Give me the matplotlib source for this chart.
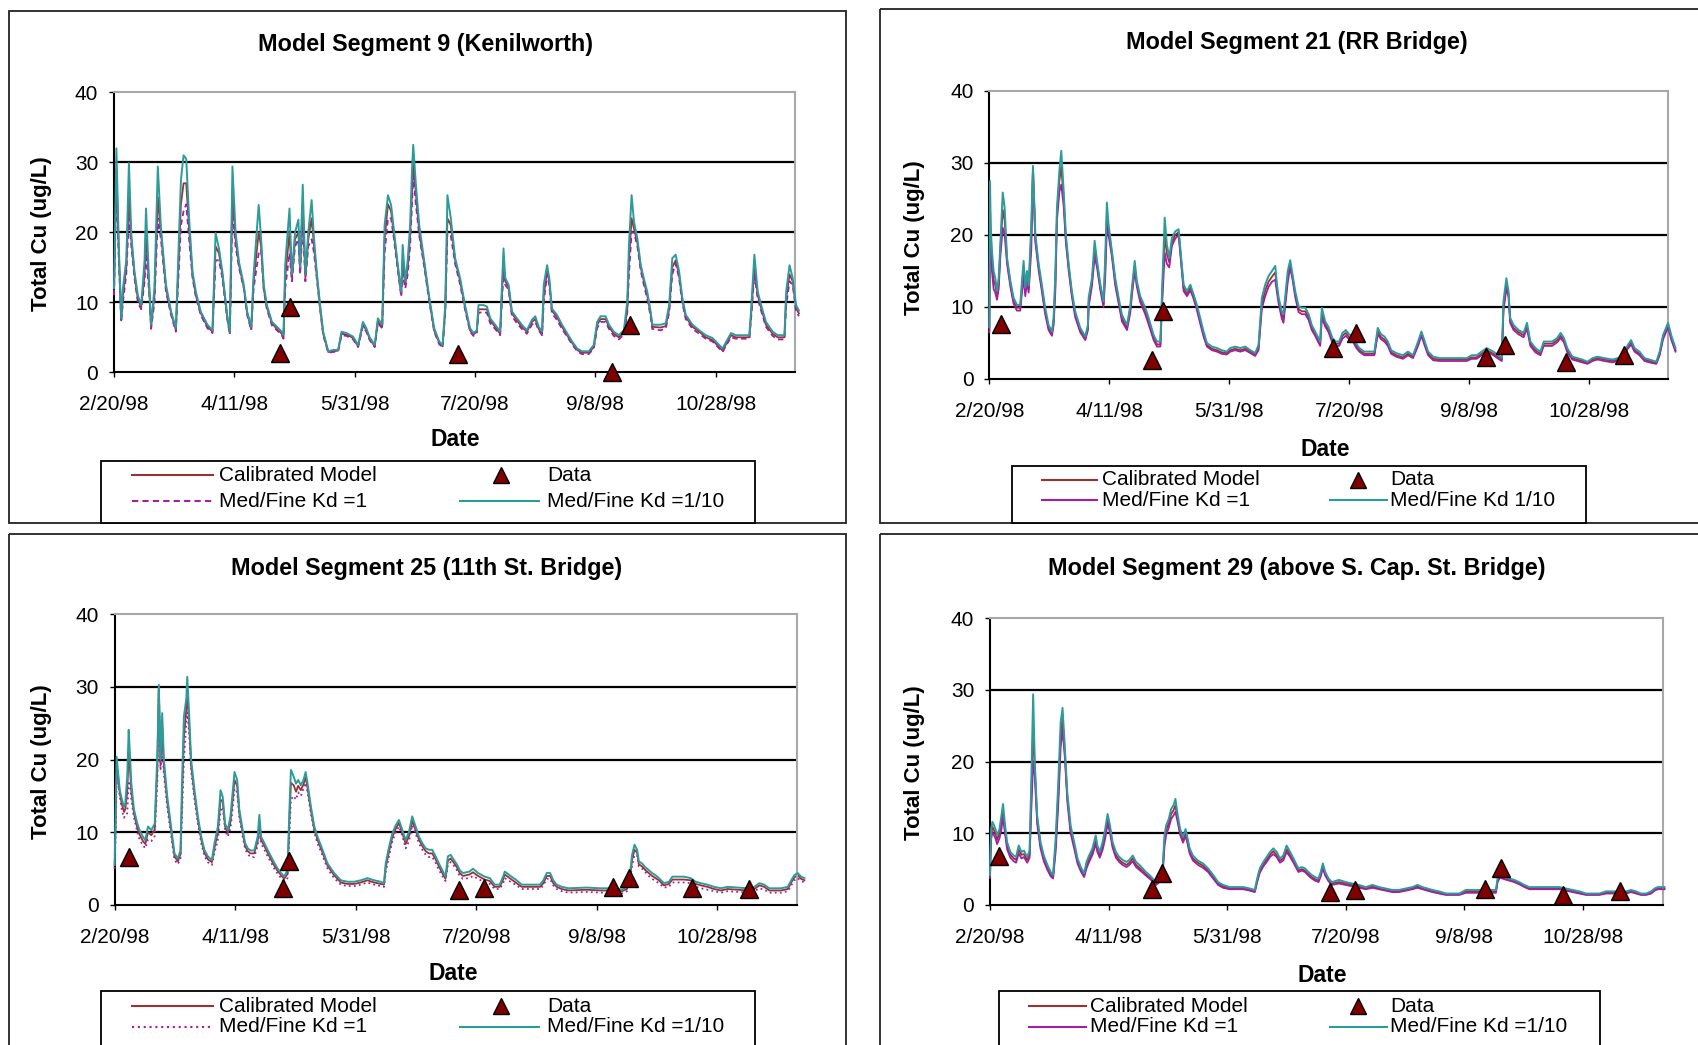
import matplotlib
matplotlib.use("Agg")
import matplotlib.pyplot as plt
from matplotlib.patches import Rectangle
from matplotlib.lines import Line2D

plt.rcParams['font.family'] = ['Liberation Sans', 'DejaVu Sans']

W, H, DPI = 1698, 1045, 100

# ---------------- shared axis data ----------------
x_tick_days = [0, 50, 100, 150, 200, 250]          # days after 2/20/98
x_tick_labels = ['2/20/98', '4/11/98', '5/31/98', '7/20/98', '9/8/98', '10/28/98']
y_ticks = [0, 10, 20, 30, 40]
grid_levels = [10, 20, 30]

# ---------------- Segment 9 (Kenilworth) ----------------
seg9_days = [0, 1, 2, 3, 3.7, 5.1, 6.2, 7.2, 8.5, 9.9,
             11.3, 12.7, 13.3, 14.7, 15.4, 16.8, 18.2, 19.5, 21.6, 23.7,
             25.7, 26.4, 27.8, 28.9, 30, 31.2, 32.6, 34, 36, 38.8,
             40.9, 42.2, 43.6, 45, 47, 48.1, 49.2, 50.5, 51.9, 53.9,
             55.3, 57, 58, 60.1, 61.1, 62.2, 63.5, 65.6, 67.7, 69.7,
             70.4, 71.1, 72.9, 73.9, 75.2, 76.6, 77.3, 78.4, 79.5, 80.7,
             82.1, 83.1, 84.2, 85.6, 86.9, 89, 91.1, 93.1, 94.5, 96.6,
             99.3, 101.4, 103.4, 104.8, 106.2, 108.3, 109.6, 111.4, 112.4, 113.8,
             115.1, 116.5, 117.9, 119.3, 119.9, 121, 122, 123, 123.8, 124.3,
             125.4, 126.8, 128.9, 131, 133, 135.1, 136.5, 137.6, 138.5, 139.9,
             141.7, 143.8, 145.8, 147.9, 149.3, 150.7, 151.4, 153.5, 154.9, 156.3,
             158.3, 160.4, 161.1, 161.8, 162.5, 163.9, 165.3, 167.4, 169.4, 171.5,
             173.6, 175, 176.4, 177.8, 178.5, 179.9, 180.8, 181.9, 184, 186.1,
             188.2, 190.3, 192.4, 194.4, 197.2, 199.3, 200.7, 202.1, 204.2, 205.6,
             207.6, 209.7, 211.8, 213.2, 213.9, 215, 216, 217.4, 218.8, 220.1,
             221.5, 222.9, 223.6, 227.1, 229.2, 230.6, 231.9, 233.3, 234.7, 236.1,
             237.5, 240.3, 243.1, 245.8, 248.6, 251.4, 252.8, 254.2, 256.3, 258.3,
             261.1, 263.9, 264.6, 266, 267.4, 268.8, 270.8, 273.6, 275.7, 278.5,
             279.2, 280.6, 281.9, 283.3, 284.5]
seg9_kd10 = [12, 32, 18, 7.7, 12, 16, 29.9, 19.6, 14.4, 11,
             9.6, 16, 23.4, 12, 6.8, 12, 29.4, 20.6, 12.5, 8.7,
             6.3, 13.4, 27.5, 31, 30.5, 22, 14.4, 11.5, 8.7, 6.8,
             6.0, 19.9, 17.7, 14.4, 8.2, 5.8, 29.4, 20, 15.8, 12.5,
             8.7, 6.5, 14, 23.9, 19.1, 12.5, 9.6, 7.2, 6.5, 5.8,
             5.3, 15.3, 23.4, 14, 20, 21.8, 15, 26.8, 14, 20,
             24.6, 19, 14.4, 9.6, 5.8, 3.0, 3.2, 3.2, 5.8, 5.6,
             5.1, 3.9, 7.2, 6.3, 5.0, 3.9, 7.7, 6.8, 21, 25.3,
             23.9, 19.6, 15.3, 11.5, 18.2, 13, 16, 21, 29.1, 32.5,
             26.8, 21, 15.8, 10.6, 6.3, 4.4, 3.9, 9.6, 25.3, 22,
             16.3, 13.4, 9.6, 6.3, 5.6, 6.0, 9.6, 9.6, 9.4, 7.7,
             6.8, 5.8, 12, 17.7, 13.5, 12.5, 8.7, 7.7, 6.8, 6.0,
             7.5, 8, 6.5, 5.8, 12.5, 15.3, 13.5, 9.1, 8.2, 6.8,
             5.6, 4.4, 3.4, 3.0, 3.0, 3.9, 7.2, 8, 8, 6.8,
             5.8, 5.3, 6.0, 10.1, 18.2, 25.3, 21.5, 19.1, 15.3, 13.4,
             11.5, 8.7, 6.8, 6.8, 7.0, 9.6, 16.3, 16.8, 14.5, 10.6,
             8.2, 6.8, 6.0, 5.3, 4.9, 3.9, 3.4, 4.3, 5.6, 5.3,
             5.3, 5.3, 8.7, 16.8, 11.5, 9.6, 7.2, 5.8, 5.3, 5.3,
             11.5, 15.3, 13.5, 9.6, 8.8]
seg9_kd1 = [11, 27, 16, 7.2, 10, 14, 22, 18, 13.5, 10,
            9, 13, 17, 11, 6.2, 10, 22, 19, 11.5, 8.2,
            5.8, 11, 21, 23, 24, 19, 13.5, 10.8, 8.2, 6.3,
            5.6, 16, 16, 13.5, 7.7, 5.4, 23, 18, 15, 12,
            8.2, 6.0, 12, 17, 17.5, 11.8, 9.0, 6.7, 6.0, 5.3,
            4.8, 12, 17, 13, 18, 19, 14, 21, 13, 18,
            19, 17, 13.5, 9.0, 5.3, 2.8, 2.9, 3.0, 5.3, 5.2,
            4.7, 3.6, 6.6, 5.8, 4.6, 3.6, 7.0, 6.3, 17, 22,
            22, 18.5, 14.5, 10.8, 14, 12, 14, 18, 24, 28,
            24, 19.5, 15, 10, 5.8, 4.0, 3.6, 8.5, 20, 19.5,
            15.5, 12.5, 9.0, 5.8, 5.2, 5.5, 8.5, 8.6, 8.5, 7.0,
            6.2, 5.3, 10, 14, 12.5, 11.8, 8.0, 7.0, 6.2, 5.5,
            6.8, 7.2, 6.0, 5.3, 10, 14, 12.5, 8.4, 7.5, 6.2,
            5.1, 4.0, 3.0, 2.6, 2.6, 3.4, 6.3, 7.2, 7.2, 6.2,
            5.2, 4.7, 5.4, 8.5, 14, 20, 20, 18, 14.5, 12.5,
            10.5, 8.0, 6.2, 6.0, 6.3, 8.5, 14, 15.5, 13.5, 9.8,
            7.6, 6.2, 5.5, 4.8, 4.4, 3.4, 2.9, 3.8, 5.0, 4.8,
            4.8, 4.8, 7.5, 14, 10.5, 8.8, 6.5, 5.2, 4.7, 4.7,
            9.5, 13, 12.5, 8.8, 8.0]
seg9_calib = [11.5, 29, 17, 7.4, 11, 15, 25, 19, 14, 10.5,
              9.3, 14, 20, 11.5, 6.5, 11, 25, 20, 12, 8.5,
              6.0, 12, 24, 27, 27, 20.5, 14, 11, 8.5, 6.5,
              5.8, 18, 17, 14, 8.0, 5.6, 26, 19, 15.4, 12.2,
              8.5, 6.2, 13, 20, 18, 12, 9.3, 7.0, 6.2, 5.5,
              5.0, 13.5, 20, 13.5, 19, 20, 14.5, 24, 13.5, 19,
              22, 18, 14, 9.3, 5.5, 2.9, 3.0, 3.1, 5.5, 5.4,
              4.9, 3.7, 6.9, 6.0, 4.8, 3.7, 7.3, 6.5, 19, 24,
              23, 19, 15, 11.2, 16, 12.5, 15, 19.5, 26, 30,
              25.5, 20, 15.4, 10.3, 6.0, 4.2, 3.7, 9, 22, 21,
              16, 13, 9.3, 6.0, 5.4, 5.8, 9.0, 9.0, 9.0, 7.4,
              6.5, 5.5, 11, 16, 13, 12.2, 8.4, 7.4, 6.5, 5.8,
              7.2, 7.6, 6.2, 5.5, 11, 14.5, 13, 8.8, 7.9, 6.5,
              5.3, 4.2, 3.2, 2.8, 2.8, 3.6, 6.8, 7.6, 7.6, 6.5,
              5.5, 5.0, 5.7, 9, 16, 22, 20.5, 18.5, 15, 13,
              11, 8.4, 6.5, 6.4, 6.6, 9, 15, 16, 14, 10.2,
              7.9, 6.5, 5.8, 5.0, 4.6, 3.6, 3.1, 4.0, 5.3, 5.0,
              5.0, 5.0, 8, 15, 11, 9.2, 6.8, 5.5, 5.0, 5.0,
              10.5, 14, 13, 9.2, 8.4]
seg9_obs_days = [69, 73, 143, 207, 214.5]
seg9_obs_vals = [2.7, 9.3, 2.6, 0.0, 6.7]

# ---------------- Segment 21 (RR Bridge) ----------------
seg21_days = [0, 0.3, 0.6, 1.1, 1.8, 2.5, 3.2, 3.9, 4.6, 5.6,
              6.4, 7.4, 8.8, 10.1, 11.5, 12.9, 13.6, 14.3, 15, 15.7,
              16.4, 17.5, 18.2, 19.2, 20.6, 21.9, 23.3, 24.7, 26.1, 26.8,
              27.5, 28.2, 29.2, 30, 31, 31.9, 33.1, 34.4, 35.8, 37.9,
              40, 41.1, 41.4, 42.8, 43.9, 44.9, 46.3, 47.6, 48.3, 49,
              49.7, 51.1, 52.5, 53.9, 55.3, 57.4, 58.8, 59.4, 60.6, 61.5,
              62.9, 65, 66.4, 68.5, 69.9, 71.3, 71.9, 73.1, 74, 75,
              76.1, 77.5, 78.9, 80, 81, 82.4, 83.8, 85.1, 86.5, 87.9,
              89.3, 90.7, 92.8, 94.9, 96.9, 99, 100.4, 102.5, 104.6, 106.7,
              108.8, 110.8, 112.2, 113.6, 115, 116.4, 117.8, 119.2, 119.9, 120.6,
              121.9, 122.6, 123.3, 124.4, 125.4, 126.4, 127.5, 128.9, 130.3, 131.7,
              133.1, 134.4, 135.8, 137.9, 138.6, 140, 141.4, 143, 144.4, 145.8,
              147.2, 148.6, 150, 151.4, 152.8, 154.2, 156.3, 158.4, 160.5, 161.9,
              163.3, 164.7, 166.1, 167.5, 169.6, 172.4, 174.5, 176.6, 178.7, 180.1,
              181.5, 182.9, 185, 187.8, 192, 196.2, 199, 201, 203.1, 205.2,
              207.3, 210.1, 212.2, 213.6, 214.3, 215.5, 216.4, 217.1, 218.5, 220.6,
              222.7, 224.1, 225.5, 227.6, 229.7, 231.1, 234.6, 236.7, 238.1, 239.5,
              240.9, 243, 245.1, 247.2, 249.3, 251.4, 253.5, 256.3, 259.8, 261.9,
              264, 266.1, 267.5, 268.9, 271, 273.1, 275.2, 278, 279.4, 280.8,
              282.9, 284.3, 286]
seg21_kd10 = [7.2, 27.5, 21, 17.8, 15, 14, 12.2, 14, 18.7, 25.9,
              23.8, 16.8, 13.6, 11.3, 10.3, 10.3, 13.6, 16.4, 12.7, 15,
              13, 21.5, 29.6, 20.1, 15.9, 13.1, 9.9, 7.5, 6.6, 8.5,
              14.3, 23.8, 28.9, 31.7, 26.1, 20.1, 15.9, 12.2, 9.4, 7.1,
              5.9, 7.5, 11.3, 14, 19.2, 16.4, 13.1, 10.8, 16.8, 24.5,
              21.5, 17.8, 14, 11.3, 8.9, 7.5, 10.3, 12.5, 16.4, 13.6,
              11.5, 9.9, 8.5, 6.1, 5.2, 5.2, 11.3, 22.4, 18.7, 16.8,
              19.6, 20.5, 20.8, 16.8, 13.1, 12.2, 13.1, 11.8, 10.3, 8.5,
              6.6, 5.0, 4.5, 4.3, 4.0, 3.8, 4.3, 4.5, 4.3, 4.5,
              4.0, 3.6, 4.7, 11.3, 13.1, 14.3, 15, 15.7, 13.1, 11.3,
              9.4, 9.0, 11.3, 15, 16.5, 14.5, 12.2, 10.1, 9.9, 9.9,
              9.0, 7.5, 6.6, 5.2, 9.9, 8, 7.2, 5.7, 5.2, 5.2,
              6.4, 6.8, 6.2, 6.0, 5.0, 4.3, 3.8, 3.8, 3.8, 7.1,
              6.2, 5.9, 5.2, 4.0, 3.6, 3.3, 3.8, 3.3, 5.2, 6.6,
              5.2, 3.8, 3.1, 2.9, 2.9, 2.9, 2.9, 3.3, 3.3, 3.8,
              4.3, 3.8, 3.3, 2.9, 10.8, 14, 12.2, 8.5, 7.5, 6.8,
              6.4, 7.8, 5.2, 4.3, 3.8, 5.2, 5.2, 5.7, 6.4, 5.7,
              4.3, 3.1, 2.9, 2.7, 2.4, 2.9, 3.1, 2.9, 2.7, 2.9,
              3.3, 4.7, 5.4, 4.3, 3.8, 2.9, 2.7, 2.4, 3.8, 6.1,
              7.8, 6.0, 4.3]
seg21_kd1 = [6.5, 20, 19, 15, 12.5, 12, 11, 12.5, 17, 21,
             20, 16, 12.8, 10.5, 9.5, 9.5, 12, 14, 11.5, 13.5,
             12, 18, 29, 19, 15, 12.2, 9.0, 6.8, 6.0, 7.5,
             12, 22, 26, 27, 24, 19, 15, 11.5, 8.6, 6.5,
             5.4, 6.8, 10, 13, 17, 15.5, 12.3, 10, 14, 21,
             20, 17, 13, 10.5, 8.0, 6.8, 9.3, 11.5, 15, 12.8,
             10.7, 9.0, 7.6, 5.4, 4.5, 4.5, 9.5, 17.5, 16, 15.5,
             18.5, 19.5, 20, 16, 12.2, 11.5, 12.3, 11.2, 9.6, 7.7,
             5.9, 4.5, 4.0, 3.8, 3.5, 3.4, 3.8, 4.0, 3.8, 4.0,
             3.6, 3.2, 4.0, 9.8, 11.5, 12.8, 13.5, 13.8, 12, 10.5,
             8.4, 7.8, 10, 13.5, 15.5, 13.8, 11.4, 9.3, 9.0, 9.0,
             8.2, 6.8, 6.0, 4.6, 8.5, 7.3, 6.5, 5.0, 4.6, 4.6,
             5.6, 6.0, 5.5, 5.3, 4.4, 3.8, 3.3, 3.3, 3.3, 6.2,
             5.5, 5.2, 4.6, 3.5, 3.1, 2.8, 3.3, 2.9, 4.6, 6.0,
             4.6, 3.3, 2.6, 2.5, 2.5, 2.5, 2.5, 2.8, 2.8, 3.3,
             3.8, 3.3, 2.8, 2.5, 9.5, 12.5, 11.5, 7.8, 6.8, 6.2,
             5.8, 7.0, 4.6, 3.7, 3.3, 4.6, 4.6, 5.1, 5.7, 5.1,
             3.7, 2.7, 2.5, 2.3, 2.1, 2.5, 2.7, 2.5, 2.3, 2.5,
             2.8, 4.2, 4.8, 3.8, 3.3, 2.5, 2.3, 2.1, 3.3, 5.5,
             7.2, 5.4, 3.8]
seg21_calib = [6.8, 24, 20, 16.5, 13.8, 13, 11.6, 13.2, 18, 23.5,
               22, 16.4, 13.2, 10.9, 9.9, 9.9, 12.8, 15.2, 12.1, 14.2,
               12.5, 20, 29.3, 19.5, 15.5, 12.6, 9.4, 7.1, 6.3, 8.0,
               13, 23, 27.5, 29.5, 25, 19.5, 15.5, 11.8, 9.0, 6.8,
               5.6, 7.1, 10.6, 13.5, 18, 16, 12.7, 10.4, 15.4, 22.8,
               20.8, 17.4, 13.5, 10.9, 8.4, 7.1, 9.8, 12, 15.7, 13.2,
               11.1, 9.4, 8.0, 5.7, 4.8, 4.8, 10.4, 20, 17.4, 16.2,
               19, 20, 20.4, 16.4, 12.6, 11.8, 12.7, 11.5, 10, 8.1,
               6.2, 4.7, 4.2, 4.0, 3.7, 3.6, 4.0, 4.2, 4.0, 4.2,
               3.8, 3.4, 4.3, 10.5, 12.3, 13.5, 14.2, 14.8, 12.5, 10.9,
               8.9, 8.4, 10.6, 14.2, 16, 14.1, 11.8, 9.7, 9.4, 9.4,
               8.6, 7.1, 6.3, 4.9, 9.2, 7.6, 6.8, 5.3, 4.9, 4.9,
               6.0, 6.4, 5.8, 5.6, 4.7, 4.0, 3.5, 3.5, 3.5, 6.6,
               5.8, 5.5, 4.9, 3.7, 3.3, 3.0, 3.5, 3.1, 4.9, 6.3,
               4.9, 3.5, 2.8, 2.7, 2.7, 2.7, 2.7, 3.0, 3.0, 3.5,
               4.0, 3.5, 3.0, 2.7, 10.1, 13.2, 11.8, 8.1, 7.1, 6.5,
               6.1, 7.4, 4.9, 4.0, 3.5, 4.9, 4.9, 5.4, 6.0, 5.4,
               4.0, 2.9, 2.7, 2.5, 2.2, 2.7, 2.9, 2.7, 2.5, 2.7,
               3.0, 4.4, 5.1, 4.0, 3.5, 2.7, 2.5, 2.2, 3.5, 5.8,
               7.5, 5.7, 4.0]
seg21_obs_days = [5, 68, 72.4, 143.3, 152.8, 207, 215, 240.3, 264.6]
seg21_obs_vals = [7.6, 2.7, 9.4, 4.3, 6.4, 3.1, 4.7, 2.4, 3.3]

# ---------------- Segment 25 (11th St. Bridge) ----------------
seg25_days = [0, 0.4, 0.8, 1.2, 2.1, 3.0, 3.9, 4.4, 5.2, 5.8,
              6.3, 6.9, 8.0, 9.4, 10.3, 11.7, 12.7, 13.8, 15.2, 16.6,
              17.7, 18.3, 19, 19.7, 20.4, 21.8, 23.4, 24.8, 26.2, 27.3,
              27.9, 28.7, 29.7, 30.1, 30.8, 31.7, 33.1, 34.5, 35.9, 37.2,
              38.6, 40.3, 41.4, 42.8, 43.9, 44.8, 45.8, 46.9, 48, 49,
              49.7, 50.8, 51.7, 53.1, 54.1, 55.2, 56.3, 57.9, 59.3, 60,
              60.7, 62.1, 63.4, 64.8, 66.2, 67.6, 69, 70.3, 71.7, 72.4,
              73.1, 74.2, 75.2, 76.1, 77.2, 78.3, 79.2, 80, 81.4, 82.8,
              84.1, 86.2, 88.3, 91, 93.8, 96.6, 99.3, 102.1, 104.8, 107.6,
              110.3, 111.7, 112.4, 113.8, 115.2, 116.6, 117.9, 119.3, 120.7, 122.1,
              123.4, 124.8, 126.2, 127.6, 129, 130.3, 131.7, 133.1, 134.5, 135.9,
              137.2, 138.2, 139.3, 140.7, 142.1, 143.1, 144.4, 147.2, 148.6, 150.7,
              153.5, 155.6, 157.6, 159.7, 161.1, 161.8, 164.6, 166.7, 168.8, 176.4,
              177.8, 179.2, 180.6, 181.9, 183.3, 185.4, 188.2, 195.8, 201.4, 208.3,
              210.4, 212.5, 213.9, 214.6, 215.6, 216.7, 217.4, 218.8, 220.1, 221.5,
              222.9, 224.3, 225.7, 227.8, 229.9, 231.3, 236.1, 238.9, 241, 243.1,
              245.8, 248.6, 251.4, 254.2, 262.5, 265.3, 267.4, 269.4, 271.5, 276.4,
              279.2, 280.6, 281.9, 283.3, 284.7, 286.1]
seg25_kd10 = [5.5, 14, 20.4, 19, 15.8, 14.5, 13.5, 14, 17.7, 24.1,
              20.9, 16.7, 13.1, 11.2, 10.3, 9.4, 8.9, 10.8, 10.3, 11.2,
              20.9, 30.3, 20, 26.4, 20, 14.9, 10.8, 7.1, 6.4, 7.5,
              16.7, 25.9, 28.4, 31.4, 26.8, 20, 15.8, 12.2, 9.4, 7.6,
              6.7, 6.2, 8.5, 10.8, 15.8, 14.9, 11.2, 10.3, 12.2, 15.8,
              18.3, 17.2, 13.1, 10.3, 8.5, 7.8, 7.5, 7.5, 9.4, 12.4,
              9.4, 8.5, 7.6, 6.7, 5.8, 5.0, 4.4, 3.9, 4.8, 12.6,
              18.6, 17.7, 16.7, 17.2, 16.5, 17.2, 18.3, 16.7, 13.5, 10.8,
              9.4, 7.6, 5.7, 4.4, 3.4, 3.2, 3.2, 3.4, 3.7, 3.4,
              3.2, 3.0, 5.7, 8.0, 9.9, 11.0, 11.7, 10.3, 8.9, 10.1,
              12.2, 10.8, 9.4, 8.5, 7.8, 7.6, 7.6, 6.7, 5.7, 4.8,
              3.9, 6.7, 6.9, 6.2, 5.5, 4.8, 4.4, 4.6, 5.0, 4.4,
              3.9, 3.7, 2.8, 2.8, 3.9, 4.6, 3.9, 3.4, 2.8, 2.8,
              3.4, 4.4, 4.4, 3.4, 2.8, 2.5, 2.3, 2.4, 2.3, 2.3,
              2.1, 2.5, 4.8, 6.9, 8.3, 7.6, 6.0, 5.7, 5.2, 4.8,
              4.4, 4.1, 3.7, 3.0, 3.2, 3.9, 3.9, 3.7, 3.2, 3.0,
              2.8, 2.5, 2.3, 2.5, 2.3, 2.5, 3.0, 2.8, 2.3, 2.3,
              2.5, 3.4, 4.1, 4.4, 3.9, 3.7]
seg25_kd1 = [5.0, 10, 17, 17.5, 15, 13, 12, 12.5, 12.6, 17,
             17, 14.5, 12, 10, 9, 8.2, 7.8, 9, 8.8, 9.5,
             17, 29.5, 18.5, 22, 18, 13.5, 9.5, 6.2, 5.6, 6.5,
             12, 20, 25, 26.5, 24, 18.5, 14.5, 11.2, 8.5, 6.8,
             5.9, 5.5, 7.2, 9, 13, 13.5, 10.3, 9.4, 10.5, 13.5,
             16, 15.5, 12, 9.4, 7.7, 7.0, 6.6, 6.6, 8.2, 10,
             8.5, 7.6, 6.7, 5.9, 5.0, 4.3, 3.7, 3.3, 3.7, 9,
             14.5, 15, 14.5, 15.5, 15, 16, 16.8, 15.5, 12.5, 10,
             8.5, 6.8, 5.0, 3.7, 2.8, 2.6, 2.6, 2.8, 3.1, 2.8,
             2.6, 2.5, 4.5, 6.8, 8.8, 10, 10.8, 9.5, 7.8, 8.8,
             11, 9.8, 8.5, 7.6, 6.9, 6.6, 6.6, 5.8, 4.8, 4.0,
             3.3, 5.5, 5.9, 5.4, 4.7, 4.0, 3.6, 3.7, 4.0, 3.6,
             3.1, 2.9, 2.2, 2.2, 3.0, 3.7, 3.1, 2.7, 2.2, 2.2,
             2.7, 3.6, 3.6, 2.7, 2.2, 1.9, 1.7, 1.8, 1.7, 1.7,
             1.6, 1.9, 3.6, 5.5, 6.9, 6.8, 5.3, 5.0, 4.5, 4.0,
             3.6, 3.3, 3.0, 2.4, 2.5, 3.1, 3.1, 3.0, 2.5, 2.3,
             2.1, 1.9, 1.7, 1.9, 1.7, 1.9, 2.3, 2.1, 1.7, 1.7,
             1.9, 2.7, 3.4, 3.7, 3.3, 3.1]
seg25_calib = [5.2, 12.5, 19, 18.3, 15.4, 13.8, 12.8, 13.2, 15.5, 21,
               19, 15.6, 12.6, 10.6, 9.7, 8.8, 8.4, 10, 9.6, 10.4,
               19, 30, 19.2, 24.5, 19, 14.2, 10.2, 6.7, 6.0, 7.0,
               14.5, 23, 27, 29, 25.5, 19.2, 15.2, 11.7, 9.0, 7.2,
               6.3, 5.9, 7.9, 10, 14.5, 14.2, 10.8, 9.9, 11.4, 14.7,
               17.2, 16.4, 12.6, 9.9, 8.1, 7.4, 7.1, 7.1, 8.8, 11.3,
               9.0, 8.1, 7.2, 6.3, 5.4, 4.7, 4.1, 3.6, 4.3, 11,
               16.8, 16.5, 15.6, 16.4, 15.8, 16.6, 17.6, 16.1, 13, 10.4,
               9.0, 7.2, 5.4, 4.1, 3.1, 2.9, 2.9, 3.1, 3.4, 3.1,
               2.9, 2.8, 5.1, 7.4, 9.4, 10.5, 11.3, 9.9, 8.4, 9.5,
               11.6, 10.3, 9.0, 8.1, 7.4, 7.1, 7.1, 6.3, 5.3, 4.4,
               3.6, 6.1, 6.4, 5.8, 5.1, 4.4, 4.0, 4.2, 4.5, 4.0,
               3.5, 3.3, 2.5, 2.5, 3.5, 4.2, 3.5, 3.0, 2.5, 2.5,
               3.0, 4.0, 4.0, 3.0, 2.5, 2.2, 2.0, 2.1, 2.0, 2.0,
               1.9, 2.2, 4.2, 6.2, 7.6, 7.2, 5.6, 5.3, 4.8, 4.4,
               4.0, 3.7, 3.4, 2.7, 2.9, 3.5, 3.5, 3.4, 2.9, 2.7,
               2.5, 2.2, 2.0, 2.2, 2.0, 2.2, 2.7, 2.5, 2.0, 2.0,
               2.2, 3.1, 3.8, 4.1, 3.6, 3.4]
seg25_obs_days = [6, 70, 72.5, 143, 153, 206.5, 213.5, 239.5, 263]
seg25_obs_vals = [6.6, 2.3, 6.1, 2.1, 2.4, 2.5, 3.7, 2.4, 2.2]

# ---------------- Segment 29 (above S. Cap. St. Bridge) ----------------
seg29_days = [0, 0.2, 0.5, 1.0, 1.6, 2.3, 3.0, 4.0, 4.8, 5.5,
              6.2, 7.2, 8.6, 10, 11, 12.1, 13.3, 14.3, 15.7, 16.7,
              17.5, 18.2, 18.9, 19.9, 21.3, 22.7, 24.2, 25.6, 26.6, 27.7,
              28.8, 29.8, 30.6, 31.6, 32.6, 34, 35.5, 36.9, 38.3, 39.7,
              40.7, 41.8, 43.2, 44.6, 45.3, 46.3, 47.5, 48.6, 49.6, 50.6,
              51.7, 53.1, 54.5, 55.9, 57.6, 58.8, 60.2, 61.6, 63, 64.4,
              65.8, 67.2, 68.6, 70.1, 71.5, 72.9, 73.6, 74.3, 75.4, 76.4,
              77.4, 78.2, 79.2, 80.2, 81.4, 82.5, 83.1, 84.2, 85.6, 87.7,
              89.8, 92, 94.1, 96.2, 98.3, 101.1, 104, 106.8, 109.6, 111.7,
              112.7, 113.8, 115.3, 116.7, 118.1, 119.5, 120.9, 122.3, 123.7, 125.1,
              126.6, 128, 130.1, 131.5, 132.9, 134.3, 135.7, 137.1, 138.6, 139.5,
              140.4, 141.4, 142.8, 144.2, 147.2, 150, 152.8, 155.6, 158.5, 161.3,
              164.1, 166.9, 169.7, 172.5, 175.4, 178.2, 180.3, 182.4, 184.5, 186.6,
              189.4, 192.3, 197.9, 200.7, 213.4, 214.1, 215.1, 216.9, 219, 221.1,
              223.2, 225.4, 227.5, 240.1, 243, 245.8, 248.6, 251.4, 257, 259.9,
              268.3, 270.4, 272.5, 274.6, 276.8, 278.9, 280.3, 281.7, 284.5]
seg29_kd10 = [4.2, 7.9, 10.6, 11.6, 11.2, 10.6, 9.7, 10.6, 12.5, 14.1,
              11.6, 8.8, 7.4, 6.9, 6.7, 8.3, 7.4, 7.6, 6.7, 7.6,
              18.5, 29.4, 19.9, 12.5, 8.8, 6.9, 5.6, 4.6, 4.2, 9.3,
              17.1, 25.5, 27.5, 21.8, 15.7, 11.1, 8.8, 6.5, 5.3, 4.4,
              6.0, 6.9, 7.9, 9.7, 8.3, 7.4, 8.8, 10.6, 12.7, 11.1,
              8.8, 7.4, 6.7, 6.3, 6.0, 6.3, 6.9, 6.0, 5.6, 5.1,
              4.6, 4.2, 3.7, 3.2, 3.7, 5.6, 9.7, 11.1, 12.0, 13.4,
              13.9, 14.8, 12.5, 10.6, 9.5, 10.6, 9.7, 7.9, 6.9, 6.2,
              5.8, 5.1, 4.2, 3.2, 2.8, 2.5, 2.5, 2.5, 2.3, 2.1,
              3.7, 5.1, 6.0, 6.7, 7.4, 7.9, 7.4, 6.5, 6.9, 8.3,
              7.4, 6.5, 5.1, 5.3, 5.1, 4.6, 4.2, 3.9, 3.7, 4.6,
              5.8, 4.6, 3.7, 3.2, 3.5, 3.2, 3.0, 2.8, 2.5, 2.8,
              2.5, 2.3, 2.1, 2.1, 2.3, 2.5, 2.8, 2.5, 2.3, 2.1,
              1.9, 1.6, 1.6, 2.1, 2.1, 3.7, 4.2, 3.9, 3.7, 3.5,
              3.2, 2.8, 2.5, 2.5, 2.3, 2.1, 1.9, 1.6, 1.6, 1.9,
              1.9, 2.1, 1.9, 1.6, 1.6, 1.9, 2.3, 2.5, 2.5]
seg29_kd1 = [3.8, 6.5, 9.2, 10.2, 9.8, 9.3, 8.5, 9.3, 10.5, 12.4,
             10.3, 7.8, 6.6, 6.1, 5.9, 7.2, 6.5, 6.7, 5.9, 6.6,
             14, 20, 18, 11.3, 7.9, 6.1, 4.9, 4.0, 3.7, 7.5,
             14, 22, 24.5, 20.5, 14.5, 10, 7.9, 5.8, 4.7, 3.9,
             5.1, 6.0, 7.0, 8.5, 7.4, 6.6, 7.7, 9.3, 11.3, 10.1,
             8.0, 6.6, 6.0, 5.6, 5.3, 5.6, 6.1, 5.3, 4.9, 4.5,
             4.1, 3.7, 3.3, 2.8, 3.2, 4.6, 8.2, 9.8, 10.8, 12,
             12.5, 13, 11.5, 9.8, 8.7, 9.6, 8.9, 7.2, 6.2, 5.6,
             5.2, 4.6, 3.7, 2.8, 2.4, 2.2, 2.2, 2.2, 2.0, 1.8,
             3.2, 4.5, 5.4, 6.0, 6.7, 7.1, 6.7, 5.9, 6.2, 7.4,
             6.7, 5.9, 4.6, 4.8, 4.6, 4.1, 3.7, 3.4, 3.2, 4.0,
             5.1, 4.1, 3.3, 2.8, 3.0, 2.8, 2.6, 2.4, 2.2, 2.4,
             2.2, 2.0, 1.8, 1.8, 2.0, 2.2, 2.4, 2.2, 2.0, 1.8,
             1.6, 1.4, 1.4, 1.7, 1.7, 3.2, 3.8, 3.6, 3.4, 3.2,
             2.9, 2.5, 2.2, 2.2, 2.0, 1.8, 1.6, 1.4, 1.4, 1.6,
             1.6, 1.8, 1.6, 1.4, 1.4, 1.6, 2.0, 2.2, 2.2]
seg29_calib = [4.0, 7.2, 9.9, 10.9, 10.5, 10, 9.1, 10, 11.5, 13.2,
               11, 8.3, 7.0, 6.5, 6.3, 7.7, 7.0, 7.1, 6.3, 7.1,
               16, 25, 19, 11.9, 8.3, 6.5, 5.2, 4.3, 3.9, 8.4,
               15.5, 23.5, 26, 21, 15.1, 10.5, 8.3, 6.1, 5.0, 4.1,
               5.5, 6.4, 7.4, 9.1, 7.8, 7.0, 8.2, 10, 12, 10.6,
               8.4, 7.0, 6.3, 5.9, 5.6, 5.9, 6.5, 5.6, 5.2, 4.8,
               4.3, 3.9, 3.5, 3.0, 3.4, 5.1, 9.0, 10.5, 11.4, 12.7,
               13.2, 13.9, 12, 10.2, 9.1, 10.1, 9.3, 7.5, 6.5, 5.9,
               5.5, 4.8, 3.9, 3.0, 2.6, 2.3, 2.3, 2.3, 2.1, 1.9,
               3.4, 4.8, 5.7, 6.3, 7.0, 7.5, 7.0, 6.2, 6.5, 7.8,
               7.0, 6.2, 4.8, 5.0, 4.8, 4.3, 3.9, 3.6, 3.4, 4.3,
               5.4, 4.3, 3.5, 3.0, 3.2, 3.0, 2.8, 2.6, 2.3, 2.6,
               2.3, 2.1, 1.9, 1.9, 2.1, 2.3, 2.6, 2.3, 2.1, 1.9,
               1.7, 1.5, 1.5, 1.9, 1.9, 3.4, 4.0, 3.7, 3.5, 3.3,
               3.0, 2.6, 2.3, 2.3, 2.1, 1.9, 1.7, 1.5, 1.5, 1.7,
               1.7, 1.9, 1.7, 1.5, 1.5, 1.7, 2.1, 2.3, 2.3]
seg29_obs_days = [4.0, 68.3, 72.4, 143.5, 154.1, 208.7, 215.6, 241.7, 265.6]
seg29_obs_vals = [6.9, 2.3, 4.4, 1.8, 2.1, 2.3, 5.1, 1.4, 1.9]

# ---------------- styling ----------------
C_CAL = '#993333'
C_KD1 = '#A020A0'
C_KD10 = '#2E9B9B'
C_OBS = '#800000'

fig = plt.figure(figsize=(W / DPI, H / DPI), dpi=DPI)
ov = fig.add_axes([0, 0, 1, 1], zorder=0)
ov.set_xlim(0, W)
ov.set_ylim(H, 0)
ov.axis('off')


def px_rect(x0, y0, x1, y1):
    return [x0 / W, 1 - y1 / H, (x1 - x0) / W, (y1 - y0) / H]


def draw_panel(p):
    # chart-area frame
    fx0, fy0, fx1, fy1 = p['frame']
    ov.add_patch(Rectangle((fx0, fy0), fx1 - fx0, fy1 - fy0, fill=False,
                           edgecolor='#222222', lw=1.3, clip_on=False))
    ax = fig.add_axes(px_rect(*p['plot']), zorder=2)
    days = p['days']
    assert len(days) == len(p['kd10']) == len(p['kd1']) == len(p['calib'])
    for g in grid_levels:
        ax.axhline(g, color='black', lw=1.6, zorder=1)
    ax.plot(days, p['calib'], color=C_CAL, lw=1.3, zorder=2, clip_on=False)
    ax.plot(days, p['kd1'], color=C_KD1, lw=1.3, zorder=3, clip_on=False,
            **p['kd1_style'])
    ax.plot(days, p['kd10'], color=C_KD10, lw=1.4, zorder=4, clip_on=False)
    ax.plot(p['obs_days'], p['obs_vals'], linestyle='none', marker='^', ms=13,
            mfc=C_OBS, mec='black', mew=1.0, zorder=6, clip_on=False)
    ax.set_xlim(0, p['xmax'])
    ax.set_ylim(0, 40)
    ax.set_xticks(x_tick_days)
    ax.set_xticklabels(x_tick_labels)
    ax.set_yticks(y_ticks)
    ax.tick_params(axis='both', direction='out', length=3.3, width=1.0,
                   labelsize=15, colors='black')
    ax.tick_params(axis='x', pad=13)
    ax.tick_params(axis='y', pad=8)
    for s in ('left', 'bottom'):
        ax.spines[s].set_color('black')
        ax.spines[s].set_linewidth(1.5)
    for s in ('top', 'right'):
        ax.spines[s].set_color('#A8A8A8')
        ax.spines[s].set_linewidth(1.5)
    # texts
    ov.text(*p['title_xy'], p['title'], ha='center', va='center', fontsize=16.8,
            fontweight='bold')
    ov.text(*p['ylab_xy'], 'Total Cu (ug/L)', ha='center', va='center',
            rotation=90, fontsize=16, fontweight='bold')
    ov.text(*p['xlab_xy'], 'Date', ha='center', va='center', fontsize=16.5,
            fontweight='bold')
    # legend
    lx0, ly0, lx1, ly1 = p['leg_box']
    ov.add_patch(Rectangle((lx0, ly0), lx1 - lx0, ly1 - ly0, facecolor='white',
                           edgecolor='black', lw=1.3, clip_on=False, zorder=1))
    r1, r2 = p['leg_rows']
    c1a, c1b, t1 = p['leg_col1']
    c2a, c2b, mx, t2 = p['leg_col2']
    labels = p['leg_labels']
    ov.add_line(Line2D([c1a, c1b], [r1, r1], color=C_CAL, lw=1.5, zorder=2))
    ov.add_line(Line2D([c1a, c1b], [r2, r2], color=C_KD1, lw=1.5, zorder=2,
                       **p['kd1_style']))
    ov.add_line(Line2D([mx], [r1], linestyle='none', marker='^', ms=11,
                       mfc=C_OBS, mec='black', mew=1.0, zorder=2))
    ov.add_line(Line2D([c2a, c2b], [r2, r2], color=C_KD10, lw=1.5, zorder=2))
    for (tx, ty, lab) in [(t1, r1, labels[0]), (t2, r1, labels[1]),
                          (t1, r2, labels[2]), (t2, r2, labels[3])]:
        ov.text(tx, ty, lab, ha='left', va='center', fontsize=15, zorder=3)


panels = [
    dict(frame=(8.7, 10.8, 845.7, 523), plot=(114, 92.3, 795.3, 372.3), xmax=283,
         days=seg9_days, kd10=seg9_kd10, kd1=seg9_kd1, calib=seg9_calib,
         obs_days=seg9_obs_days, obs_vals=seg9_obs_vals,
         kd1_style=dict(dashes=(3, 2)),
         title='Model Segment 9 (Kenilworth)', title_xy=(426, 45),
         ylab_xy=(42, 234), xlab_xy=(455, 440),
         leg_box=(100.7, 461.3, 754.8, 523), leg_rows=(475.4, 501.4),
         leg_col1=(132, 213, 218.7), leg_col2=(460, 539, 501, 547),
         leg_labels=['Calibrated Model', 'Data', 'Med/Fine Kd =1', 'Med/Fine Kd =1/10']),
    dict(frame=(880.4, 8.7, 1712, 523), plot=(989.3, 91, 1668.3, 379), xmax=283,
         days=seg21_days, kd10=seg21_kd10, kd1=seg21_kd1, calib=seg21_calib,
         obs_days=seg21_obs_days, obs_vals=seg21_obs_vals,
         kd1_style=dict(),
         title='Model Segment 21 (RR Bridge)', title_xy=(1297, 43),
         ylab_xy=(915, 238), xlab_xy=(1325, 449),
         leg_box=(1012.5, 465.6, 1586.5, 523), leg_rows=(479.7, 500.3),
         leg_col1=(1041.7, 1097, 1102.4), leg_col2=(1329.8, 1387, 1358, 1390.5),
         leg_labels=['Calibrated Model', 'Data', 'Med/Fine Kd =1', 'Med/Fine Kd 1/10']),
    dict(frame=(8.7, 533.9, 845.7, 1060), plot=(114.7, 614.3, 797, 905), xmax=283,
         days=seg25_days, kd10=seg25_kd10, kd1=seg25_kd1, calib=seg25_calib,
         obs_days=seg25_obs_days, obs_vals=seg25_obs_vals,
         kd1_style=dict(dashes=(1, 1.8)),
         title='Model Segment 25 (11th St. Bridge)', title_xy=(427, 568),
         ylab_xy=(42, 762), xlab_xy=(453, 973),
         leg_box=(100.7, 990.9, 754.8, 1060), leg_rows=(1006, 1026.6),
         leg_col1=(132, 213, 218.7), leg_col2=(460, 539, 501.4, 547),
         leg_labels=['Calibrated Model', 'Data', 'Med/Fine Kd =1', 'Med/Fine Kd =1/10']),
    dict(frame=(880.4, 533.9, 1712, 1060), plot=(990, 618.3, 1663.3, 905), xmax=284,
         days=seg29_days, kd10=seg29_kd10, kd1=seg29_kd1, calib=seg29_calib,
         obs_days=seg29_obs_days, obs_vals=seg29_obs_vals,
         kd1_style=dict(),
         title='Model Segment 29 (above S. Cap. St. Bridge)', title_xy=(1297, 568),
         ylab_xy=(915, 763), xlab_xy=(1322, 976),
         leg_box=(999.5, 990.9, 1600.5, 1060), leg_rows=(1006, 1026.6),
         leg_col1=(1028.8, 1086, 1090.5), leg_col2=(1329.8, 1387, 1358, 1390.5),
         leg_labels=['Calibrated Model', 'Data', 'Med/Fine Kd =1', 'Med/Fine Kd =1/10']),
]

for p in panels:
    draw_panel(p)

fig.savefig('out.png', dpi=DPI, facecolor='white')
